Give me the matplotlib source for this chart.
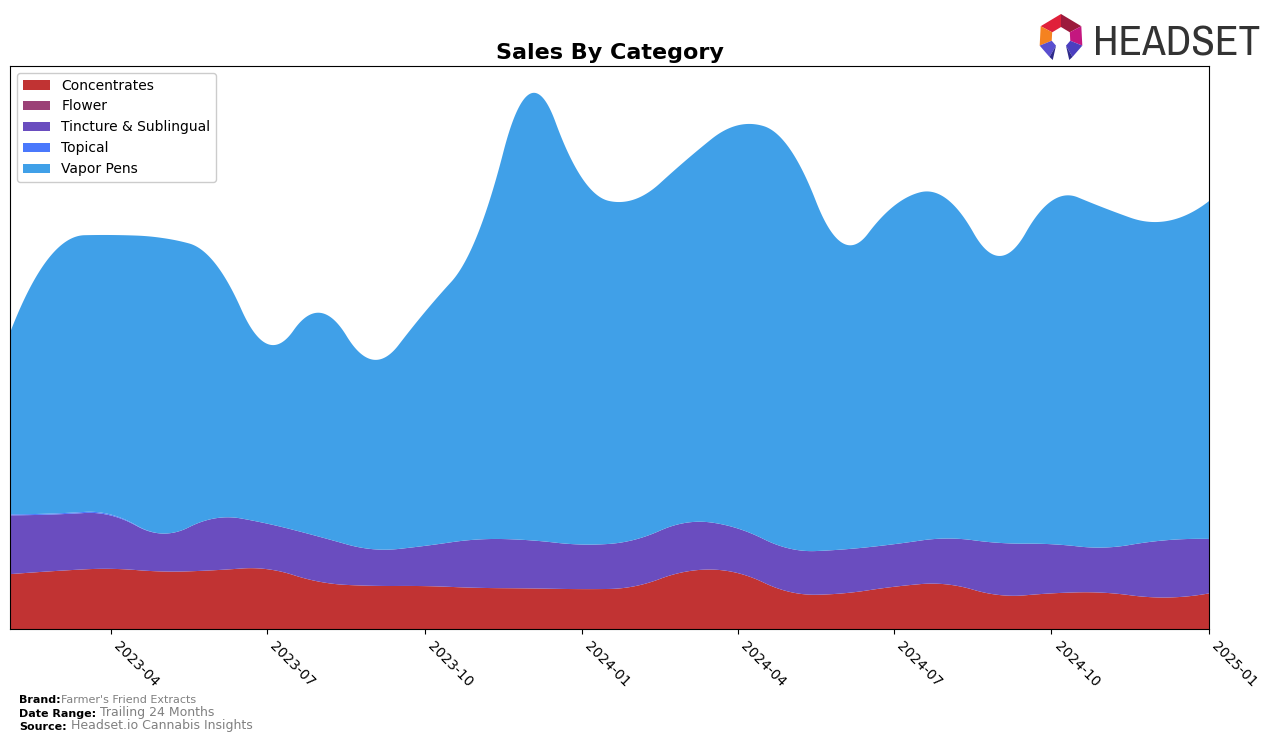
import numpy as np
import pandas as pd
import matplotlib
matplotlib.use("Agg")
import matplotlib.pyplot as plt
import matplotlib.dates as mdates
from matplotlib import font_manager
from matplotlib.patches import Polygon

# ---------------- data ----------------
months = pd.date_range("2023-02-01", periods=24, freq="MS")
categories = ["Concentrates", "Flower", "Tincture & Sublingual", "Topical", "Vapor Pens"]
colors = ["#c13333", "#9b4177", "#6a4dbf", "#4a78fc", "#40a0e8"]

concentrates = [55, 58.3, 60.3, 57.7, 59, 60, 47.3, 43.3, 43, 41.3, 40.7, 40,
                43, 57.3, 56, 37.3, 35.7, 42.3, 44.7, 34, 35.7, 36.3, 31.7, 35.7]
flower = [0] * 24
tincture = [59, 56.7, 53.4, 38, 52, 45.7, 45, 36.7, 40.3, 48.4, 48.3, 44.7,
            46.7, 49, 44.7, 43.4, 44, 42.7, 46, 52.3, 49.3, 45.4, 56.3, 54.6]
topical = [1, 1, 1, 0, 0, 0, 0, 0, 0, 0, 0, 0,
           0, 0, 0, 0, 0, 0, 0, 0, 0, 0, 0, 0]
vapor_pens = [182, 266, 280.3, 296.3, 255, 180.3, 224.7, 190, 234, 306, 447, 367.3,
              341.3, 362.7, 404.3, 401.3, 307.3, 339, 340.3, 287.7, 344, 340.3, 320, 338.7]

brand = "Farmer's Friend Extracts"
date_range = "Trailing 24 Months"
source = "Headset.io Cannabis Insights"


# ---------------- quadratic interpolating B-spline (numpy only) ----------------
def bspline_basis(t, k, xs):
    xs = np.asarray(xs, float)
    n = len(t) - 1
    B = np.zeros((len(xs), n))
    for i in range(n):
        if t[i] < t[i + 1]:
            B[:, i] = (xs >= t[i]) & (xs < t[i + 1])
    last = np.max(np.nonzero(t[:-1] < t[1:])[0])
    B[xs >= t[-1], last] = 1.0
    for d in range(1, k + 1):
        Bn = np.zeros((len(xs), n - d))
        for i in range(n - d):
            term = np.zeros(len(xs))
            den1 = t[i + d] - t[i]
            den2 = t[i + d + 1] - t[i + 1]
            if den1 > 0:
                term += (xs - t[i]) / den1 * B[:, i]
            if den2 > 0:
                term += (t[i + d + 1] - xs) / den2 * B[:, i + 1]
            Bn[:, i] = term
        B = Bn
    return B


def smooth(x, y, xf, k=2):
    x = np.asarray(x, float)
    mids = (x[1:] + x[:-1]) / 2.0
    t = np.r_[(x[0],) * (k + 1), mids[1:-1], (x[-1],) * (k + 1)]
    A = bspline_basis(t, k, x)
    c = np.linalg.solve(A, np.asarray(y, float))
    return np.clip(bspline_basis(t, k, xf) @ c, 0, None)


x = mdates.date2num(months)
xf = np.linspace(x[0], x[-1], 1500)
series = [concentrates, flower, tincture, topical, vapor_pens]
smoothed = [smooth(x, s, xf) for s in series]

# ---------------- figure ----------------
W, H = 1276, 743
fig = plt.figure(figsize=(W / 100, H / 100), dpi=100)
ax = fig.add_axes([10 / W, 1 - 629 / H, 1199 / W, 563 / H])
ax.stackplot(xf, *smoothed, labels=categories, colors=colors)
ax.set_xlim(x[0], x[-1])
total = np.sum(smoothed, axis=0)
ax.set_ylim(0, total.max() * 1.05)
ax.set_yticks([])
ax.xaxis.set_major_locator(mdates.MonthLocator(bymonth=[1, 4, 7, 10]))
ax.xaxis.set_major_formatter(mdates.DateFormatter("%Y-%m"))
for lbl in ax.get_xticklabels():
    lbl.set_rotation(-45)
    lbl.set_ha("left")
    lbl.set_va("top")
    lbl.set_fontsize(10)
ax.set_title("Sales By Category", fontsize=16, fontweight="bold", pad=5)
ax.legend(loc="upper left", fontsize=10, framealpha=1)

# ---------------- footer ----------------
lines = [("Brand:", brand, 8, 703), ("Date Range:", date_range, 9, 717), ("Source:", source, 9, 730)]
for bold, val, fs, ypix in lines:
    t1 = fig.text(19 / W, 1 - ypix / H, bold, fontsize=8, fontweight="bold", color="black", va="baseline")
    sep = "" if bold == "Brand:" else " "
    ax.annotate(sep + val, xy=(1, 0), xycoords=t1, fontsize=fs, color="#808080",
                va="bottom", ha="left", annotation_clip=False)

# ---------------- logo ----------------
lax = fig.add_axes([1030 / W, 1 - 65 / H, 240 / W, 55 / H])
lax.set_xlim(1030, 1270)
lax.set_ylim(65, 10)
lax.axis("off")
cx, cy, R, r = 1061, 37, 23, 10
segs = [(-62, 0, "#e0203a"), (0, 62, "#9c1a3c"), (62, 112, "#c4177f"),
        (-112, -62, "#f58220"), (-150, -112, "#5a4fcf"), (112, 150, "#4b3fc0")]
for a0, a1, col in segs:
    ang = np.radians([a0, a1])
    outer = [(cx + R * np.sin(a), cy - R * np.cos(a)) for a in ang]
    inner = [(cx + r * np.sin(a), cy - r * np.cos(a)) for a in ang[::-1]]
    lax.add_patch(Polygon(outer + inner, closed=True, color=col, lw=0))
for sgn in (-1, 1):
    a = np.radians(150 * sgn)
    ao = (cx + R * np.sin(a), cy - R * np.cos(a))
    ai = (cx + r * np.sin(a), cy - r * np.cos(a))
    tip = ((ao[0] + ai[0]) / 2, 60)
    lax.add_patch(Polygon([ao, ai, tip], closed=True, color="#2e2a8a", lw=0))

# pick a narrow font if one is installed
fam, stretch = "DejaVu Sans", "normal"
for f in font_manager.fontManager.ttflist:
    if "Narrow" in f.name or "Condensed" in f.name:
        fam, stretch = f.name, "normal"
        break
else:
    for f in font_manager.fontManager.ttflist:
        if str(f.stretch).lower() in ("condensed", "semi-condensed", "extra-condensed") or \
                (isinstance(f.stretch, int) and f.stretch < 500):
            fam, stretch = f.name, f.stretch
            break

logo = lax.text(1093, 56, "HEADSET", fontsize=34, family=fam, stretch=stretch,
                color="#333333", ha="left", va="baseline")
fig.canvas.draw()
wpx = logo.get_window_extent().width
target = 167.0
if wpx > target:
    logo.set_fontsize(34 * target / wpx)

fig.savefig("out.png", dpi=100)
